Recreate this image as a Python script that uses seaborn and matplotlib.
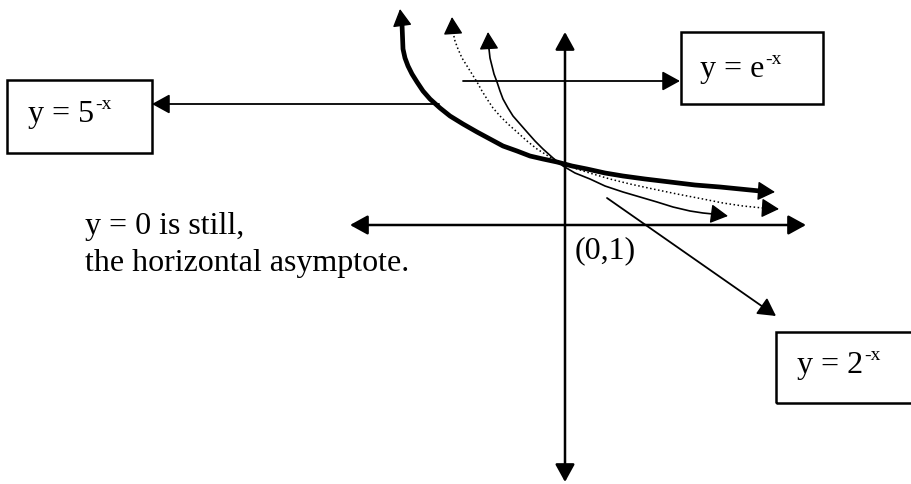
import pandas as pd
import matplotlib.pyplot as plt
from matplotlib.patches import Rectangle
import seaborn as sns

# CURVE POINTS in pixels from where the axes cross
# (x to the right, y upwards). First and last points are the arrow tips.
five_x = [-165, -163, -162, -160, -157, -153, -148, -142, -135, -125, -115, -102, -88, -75,
          -62, -48, -35, -22, -8, 7, 22, 40, 58, 80, 105, 130, 155, 175, 195, 210]
five_y = [216, 201, 176, 167, 159, 151, 143, 134, 126, 117, 109, 101, 93, 86,
          79, 74, 69, 66, 63, 59, 56, 52, 49, 46, 43, 40, 38, 36, 34, 33]

e_x = [-113, -112, -110, -107, -103, -98, -93, -88, -83, -78, -72, -65, -57, -48, -38, -28,
       -20, -12, 0, 12, 28, 45, 65, 88, 112, 138, 158, 178, 198, 214]
e_y = [208, 193, 184, 176, 167, 159, 151, 143, 134, 126, 117, 109, 101, 93, 84, 76,
       71, 66, 61, 56, 51, 46, 41, 36, 31, 26, 22, 19, 17, 16]

two_x = [-77, -76, -75, -73, -71, -68, -65, -62, -57, -52, -45, -38, -30, -22, -12, -2,
         10, 25, 40, 58, 75, 92, 108, 125, 138, 148, 163]
two_y = [193, 176, 167, 159, 151, 143, 134, 126, 117, 109, 101, 93, 84, 76, 67, 59,
         52, 46, 39, 33, 28, 23, 18, 14, 12, 11, 9]

# LABELS
labels = ["y = 5", "y = e", "y = 2"]
exponent = "-x"
note_lines = ["y = 0 is still,", "the horizontal asymptote."]
point_label = "(0,1)"

# THEME
sns.set_theme(style="white")
plt.rcParams["font.family"] = ["Liberation Serif", "DejaVu Serif"]
plt.rcParams["text.color"] = "black"

fig = plt.figure(figsize=(9.11, 4.85), dpi=100)
ax = fig.add_axes([0, 0, 1, 1])


def arrow(start, end, lw=1.3, style="-|>", scale=27):
    ax.annotate("", xy=end, xytext=start,
                arrowprops=dict(arrowstyle=f"{style},head_length=0.4,head_width=0.22",
                                color="black", lw=lw, shrinkA=0, shrinkB=0,
                                mutation_scale=scale))


# CURVES
for xs, ys, lw, ls in [(five_x, five_y, 3.4, "-"),
                       (e_x, e_y, 1.1, ":"),
                       (two_x, two_y, 1.2, "-")]:
    curve = pd.DataFrame({"x": xs[1:-1], "y": ys[1:-1]})
    sns.lineplot(data=curve, x="x", y="y", sort=False, estimator=None,
                 color="black", lw=lw, ls=ls, solid_joinstyle="round",
                 solid_capstyle="butt", ax=ax)
    arrow((xs[1], ys[1]), (xs[0], ys[0]), lw=1)
    arrow((xs[-2], ys[-2]), (xs[-1], ys[-1]), lw=1)

ax.set_xlim(-565, 346)
ax.set_ylim(-259, 226)
ax.set_axis_off()

# AXES WITH ARROWS
arrow((-215, 0), (241, 0), lw=1.8, style="<|-|>")
arrow((0, 193), (0, -257), lw=1.8, style="<|-|>")

# LABEL BOXES
boxes = [(-558, 72, 145, 73), (116, 121, 142, 72), (211, -178, 145, 71)]
text_pos = [(-537, 104), (135, 149), (232, -147)]
for (bx, by, bw, bh), (tx, ty), lab in zip(boxes, text_pos, labels):
    ax.add_patch(Rectangle((bx, by), bw, bh, fill=False, ec="black", lw=1.8))
    t = ax.text(tx, ty, lab, fontsize=23, va="baseline", ha="left")
    ax.annotate(exponent, xy=(1, 1), xycoords=t, xytext=(0.5, 3),
                textcoords="offset points", fontsize=14, va="top", ha="left")

# POINTERS FROM CURVES TO BOXES
arrow((-126, 121), (-413, 121))
arrow((-102, 144), (115, 144))
arrow((42, 27), (211, -91))

# NOTES
ax.text(-480, -8, note_lines[0], fontsize=23, va="baseline")
ax.text(-480, -45, note_lines[1], fontsize=23, va="baseline")
ax.text(10, -32, point_label, fontsize=23, va="baseline")

fig.savefig("out.png", dpi=100)
